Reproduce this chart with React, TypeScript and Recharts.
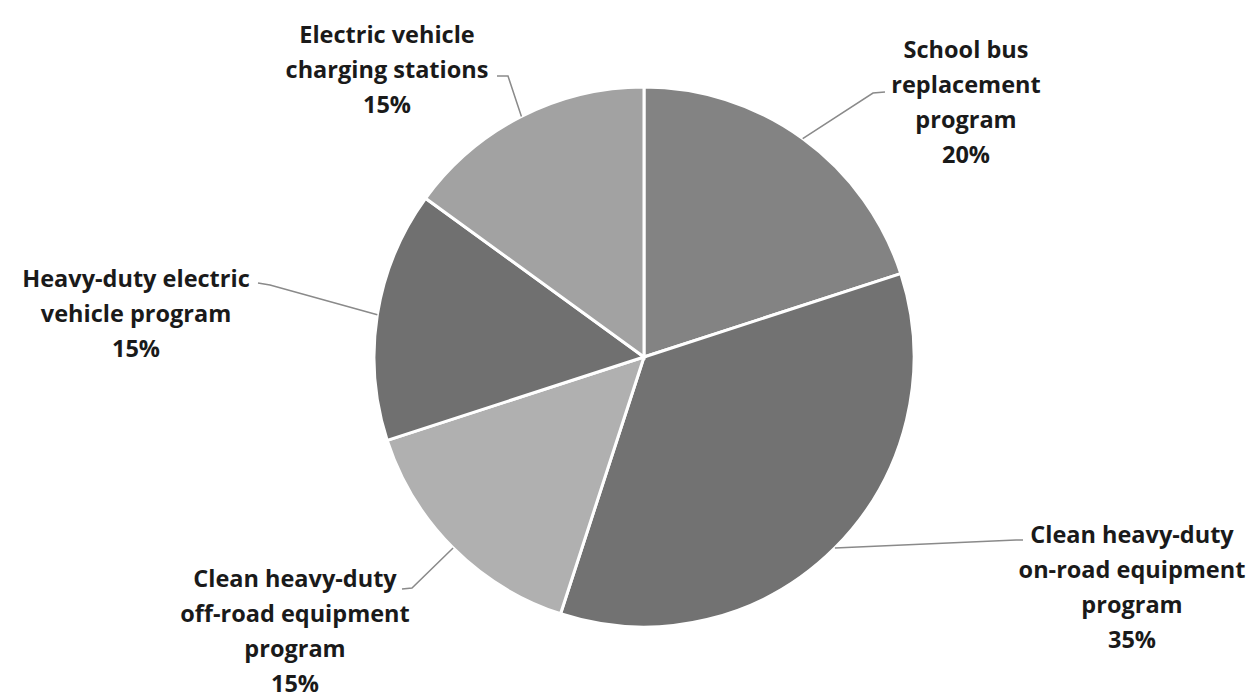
import { PieChart, Pie, Cell } from 'recharts';

const programs = [
  'School bus replacement program',
  'Clean heavy-duty on-road equipment program',
  'Clean heavy-duty off-road equipment program',
  'Heavy-duty electric vehicle program',
  'Electric vehicle charging stations',
];
const shares = [20, 35, 15, 15, 15];
const labelLines = [
  ['School bus', 'replacement', 'program'],
  ['Clean heavy-duty', 'on-road equipment', 'program'],
  ['Clean heavy-duty', 'off-road equipment', 'program'],
  ['Heavy-duty electric', 'vehicle program'],
  ['Electric vehicle', 'charging stations'],
];

const data = programs.map((name, i) => ({ name, value: shares[i], lines: labelLines[i] }));

const COLORS = ['#838383', '#727272', '#b0b0b0', '#707070', '#a2a2a2'];

// label placement relative to pie centre (text x, first line y, leader elbow, leader end)
const LAYOUT = [
  { tx: 322, ty: -308, ex: 229, ey: -264, lx: 241, ly: -265 },
  { tx: 488, ty: 177, ex: 372, ey: 183, lx: 379, ly: 183 },
  { tx: -349, ty: 221, ex: -232, ey: 231, lx: -242, ly: 232 },
  { tx: -508, ty: -79, ex: -374, ey: -72, lx: -386, ly: -74 },
  { tx: -257, ty: -323, ex: -136, ey: -281, lx: -147, ly: -281 },
];

const RAD = Math.PI / 180;
const LINE_H = 35;

function renderLabel(props: any) {
  const { cx, cy, midAngle, outerRadius, index } = props;
  const l = LAYOUT[index];
  const sx = cx + outerRadius * Math.cos(-midAngle * RAD);
  const sy = cy + outerRadius * Math.sin(-midAngle * RAD);
  const lines: string[] = [...data[index].lines, `${data[index].value}%`];
  return (
    <g key={`lbl-${index}`}>
      <polyline
        points={`${sx},${sy} ${cx + l.ex},${cy + l.ey} ${cx + l.lx},${cy + l.ly}`}
        fill="none"
        stroke="#8a8a8a"
        strokeWidth={1.5}
      />
      <text
        x={cx + l.tx}
        y={cy + l.ty}
        textAnchor="middle"
        dominantBaseline="central"
        fill="#1a1a1a"
        fontFamily="'Open Sans', Lato, sans-serif"
        fontWeight={700}
        fontSize={23.5}
      >
        {lines.map((t, k) => (
          <tspan key={k} x={cx + l.tx} dy={k === 0 ? 0 : LINE_H}>
            {t}
          </tspan>
        ))}
      </text>
    </g>
  );
}

export default function App() {
  return (
    <div style={{ position: 'absolute', left: 0, top: 0, width: 1249, height: 698, background: '#fff' }}>
      <PieChart width={1249} height={698}>
        <Pie
          data={data}
          dataKey="value"
          nameKey="name"
          cx={639}
          cy={352}
          outerRadius={270}
          startAngle={90}
          endAngle={-270}
          stroke="#ffffff"
          strokeWidth={3}
          labelLine={false}
          label={renderLabel}
          isAnimationActive={false}
        >
          {data.map((d, i) => (
            <Cell key={d.name} fill={COLORS[i]} />
          ))}
        </Pie>
      </PieChart>
    </div>
  );
}
